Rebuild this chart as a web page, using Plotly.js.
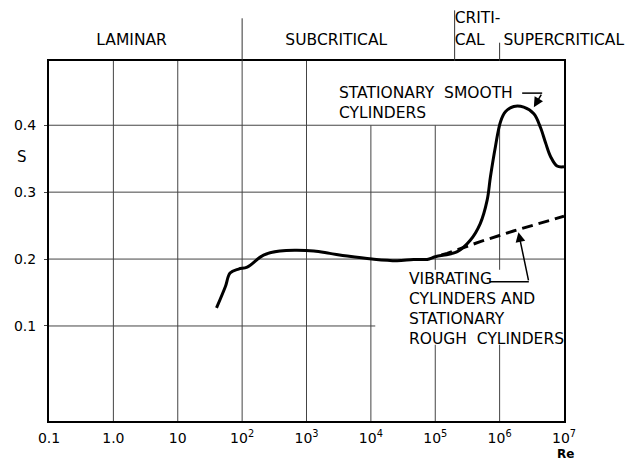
<!DOCTYPE html>
<html>
<head>
<meta charset="utf-8">
<script src="https://cdn.plot.ly/plotly-3.0.1.min.js"></script>
<style>html,body{margin:0;padding:0;background:#fff;}#chart{width:631px;height:461px;}</style>
</head>
<body>
<div id="chart"></div>
<script>
// ---- data ----
const stationaryRe = [40, 55, 65, 88, 120, 215, 390, 710, 1300, 2300, 4300, 1.04e4, 2.55e4, 4.6e4, 7.5e4, 1.0e5, 2.2e5, 3.5e5, 5.0e5, 6.4e5, 7.2e5, 8.6e5, 1.03e6, 1.23e6, 1.66e6, 2.37e6, 3.4e6, 4.3e6, 5.2e6, 6.2e6, 7.8e6, 1.0e7];
const stationaryS  = [0.127, 0.159, 0.179, 0.185, 0.188, 0.206, 0.212, 0.213, 0.212, 0.2085, 0.2045, 0.200, 0.1975, 0.1995, 0.1995, 0.2035, 0.211, 0.228, 0.253, 0.288, 0.323, 0.368, 0.405, 0.420, 0.428, 0.427, 0.417, 0.397, 0.373, 0.353, 0.339, 0.338];
const roughRe = [1.25e5, 1.53e5, 5.0e5, 1.64e6, 1.0e7];
const roughS  = [0.206, 0.2085, 0.226, 0.242, 0.264];

const xTickVals = [0.1, 1, 10, 100, 1e3, 1e4, 1e5, 1e6, 1e7];
const xTickText = ['0.1', '1.0', '10', '10<sup>2</sup>', '10<sup>3</sup>', '10<sup>4</sup>', '10<sup>5</sup>', '10<sup>6</sup>', '10<sup>7</sup>'];
const yTickVals = [0.1, 0.2, 0.3, 0.4];
const yTickText = ['0.1', '0.2', '0.3', '0.4'];

const regimeLabels = ['LAMINAR', 'SUBCRITICAL', 'CRITI-', 'CAL', 'SUPERCRITICAL'];
const regimeRe     = [1.92, 2900, 2e5, 2e5, 1.15e6];
const regimeLevel  = [0.33, 0.33, 0.69, 0.33, 0.33];
const regimeAlign  = ['middle center', 'middle center', 'middle right', 'middle right', 'middle right'];
const dividerRe    = [100, 2e5, 1e6];
const dividerTop   = [0.70, 0.83, 0.30];

const xMin = 0.1, xMax = 1e7, yMin = -0.042, yMax = 0.496;
const fullGridRe = [1, 10, 100, 1000];
const partGridRe = [1e4, 1e5, 1e6];
const partGridSegs = [[[yMin, 0.4]], [[yMin, 0.072], [0.184, 0.4]], [[yMin, 0.072], [0.184, 0.4]]];
const gridS = [0.1, 0.2, 0.3, 0.4];
const gridSEnd = [1.17e4, 1e7, 1e7, 1e7];

const smoothLabel = 'STATIONARY\u00a0\u00a0SMOOTH<br>CYLINDERS';
const smoothLabelAt = [2980, 0.4336];
const smoothLeaderRe = [2.24e6, 4.58e6], smoothLeaderS = 0.448;
const smoothTip = [3.4e6, 0.427];
const roughLabel = 'VIBRATING<br>CYLINDERS AND<br>STATIONARY<br>ROUGH\u00a0\u00a0CYLINDERS';
const roughLabelAt = [3.69e4, 0.126];
const roughLeaderRe = [6.95e5, 2.84e6], roughLeaderS = 0.166;
const roughTip = [1.96e6, 0.240];

// ---- build ----
const FONT = 'DejaVu Sans';
const gx = [], gy = [];
fullGridRe.forEach(r => { gx.push(r, r, null); gy.push(yMin, yMax, null); });
partGridRe.forEach((r, i) => partGridSegs[i].forEach(s => { gx.push(r, r, null); gy.push(s[0], s[1], null); }));
gridS.forEach((s, i) => { gx.push(xMin, gridSEnd[i], null); gy.push(s, s, null); });

const dx = [], dy = [];
dividerRe.forEach((r, i) => { dx.push(r, r, null); dy.push(0, dividerTop[i], null); });

const traces = [
  {x: gx, y: gy, mode: 'lines', line: {color: '#444', width: 1}, hoverinfo: 'skip', showlegend: false},
  {x: stationaryRe, y: stationaryS, mode: 'lines', line: {color: '#000', width: 3, shape: 'spline', smoothing: 1}, showlegend: false},
  {x: roughRe, y: roughS, mode: 'lines', line: {color: '#000', width: 3, dash: '11px,6px'}, showlegend: false},
  {x: smoothLeaderRe, y: [smoothLeaderS, smoothLeaderS], mode: 'lines', line: {color: '#000', width: 1.5}, showlegend: false},
  {x: roughLeaderRe, y: [roughLeaderS, roughLeaderS], mode: 'lines', line: {color: '#000', width: 1.5}, showlegend: false},
  {x: dx, y: dy, xaxis: 'x2', yaxis: 'y2', mode: 'lines', line: {color: '#333', width: 1}, showlegend: false},
  {x: regimeRe, y: regimeLevel, xaxis: 'x2', yaxis: 'y2', mode: 'text', text: regimeLabels, textposition: regimeAlign,
   textfont: {family: FONT, size: 15.5, color: '#000'}, cliponaxis: false, showlegend: false}
];

const layout = {
  width: 631, height: 461,
  margin: {l: 49, r: 67, t: 0, b: 40},
  paper_bgcolor: '#fff', plot_bgcolor: '#fff',
  font: {family: FONT, color: '#000'},
  showlegend: false,
  xaxis: {type: 'log', range: [Math.log10(xMin), Math.log10(xMax)], showgrid: false, zeroline: false,
          showline: true, linecolor: '#000', linewidth: 2, mirror: true, ticks: '',
          tickvals: xTickVals, ticktext: xTickText, tickfont: {size: 14, family: FONT}, ticklabelstandoff: 3,
          anchor: 'y', domain: [0, 1]},
  yaxis: {range: [yMin, yMax], domain: [0, 360 / 421], showgrid: false, zeroline: false,
          showline: true, linecolor: '#000', linewidth: 2, mirror: true, ticks: 'outside', ticklen: 3, tickcolor: '#444',
          tickvals: yTickVals, ticktext: yTickText, tickfont: {size: 14, family: FONT}, ticklabelstandoff: 5},
  xaxis2: {type: 'log', range: [Math.log10(xMin), Math.log10(xMax)], anchor: 'y2', visible: false, domain: [0, 1]},
  yaxis2: {range: [0, 1], domain: [360 / 421, 1], visible: false, anchor: 'x2'},
  annotations: [
    {text: smoothLabel, x: Math.log10(smoothLabelAt[0]), y: smoothLabelAt[1], xref: 'x', yref: 'y',
     xanchor: 'left', yanchor: 'middle', align: 'left', showarrow: false, font: {size: 15.5, family: FONT}},
    {text: roughLabel, x: Math.log10(roughLabelAt[0]), y: roughLabelAt[1], xref: 'x', yref: 'y',
     xanchor: 'left', yanchor: 'middle', align: 'left', showarrow: false, font: {size: 15.5, family: FONT}},
    {text: '', x: Math.log10(smoothTip[0]), y: smoothTip[1], xref: 'x', yref: 'y',
     ax: Math.log10(smoothLeaderRe[1]), ay: smoothLeaderS, axref: 'x', ayref: 'y',
     showarrow: true, arrowhead: 2, arrowsize: 1.3, arrowwidth: 1.5, arrowcolor: '#000', standoff: 0},
    {text: '', x: Math.log10(roughTip[0]), y: roughTip[1], xref: 'x', yref: 'y',
     ax: Math.log10(roughLeaderRe[1]), ay: roughLeaderS, axref: 'x', ayref: 'y',
     showarrow: true, arrowhead: 2, arrowsize: 1.3, arrowwidth: 1.5, arrowcolor: '#000', standoff: 0},
    {text: 'S', x: -0.066, y: 0.352, xref: 'paper', yref: 'y', showarrow: false, font: {size: 15, family: FONT}},
    {text: '<b>Re</b>', x: 1.002, y: -0.0784, xref: 'paper', yref: 'paper', showarrow: false,
     xanchor: 'center', yanchor: 'middle', font: {size: 12, family: FONT}}
  ]
};

Plotly.newPlot('chart', traces, layout, {displayModeBar: false, staticPlot: true});
</script>
</body>
</html>
